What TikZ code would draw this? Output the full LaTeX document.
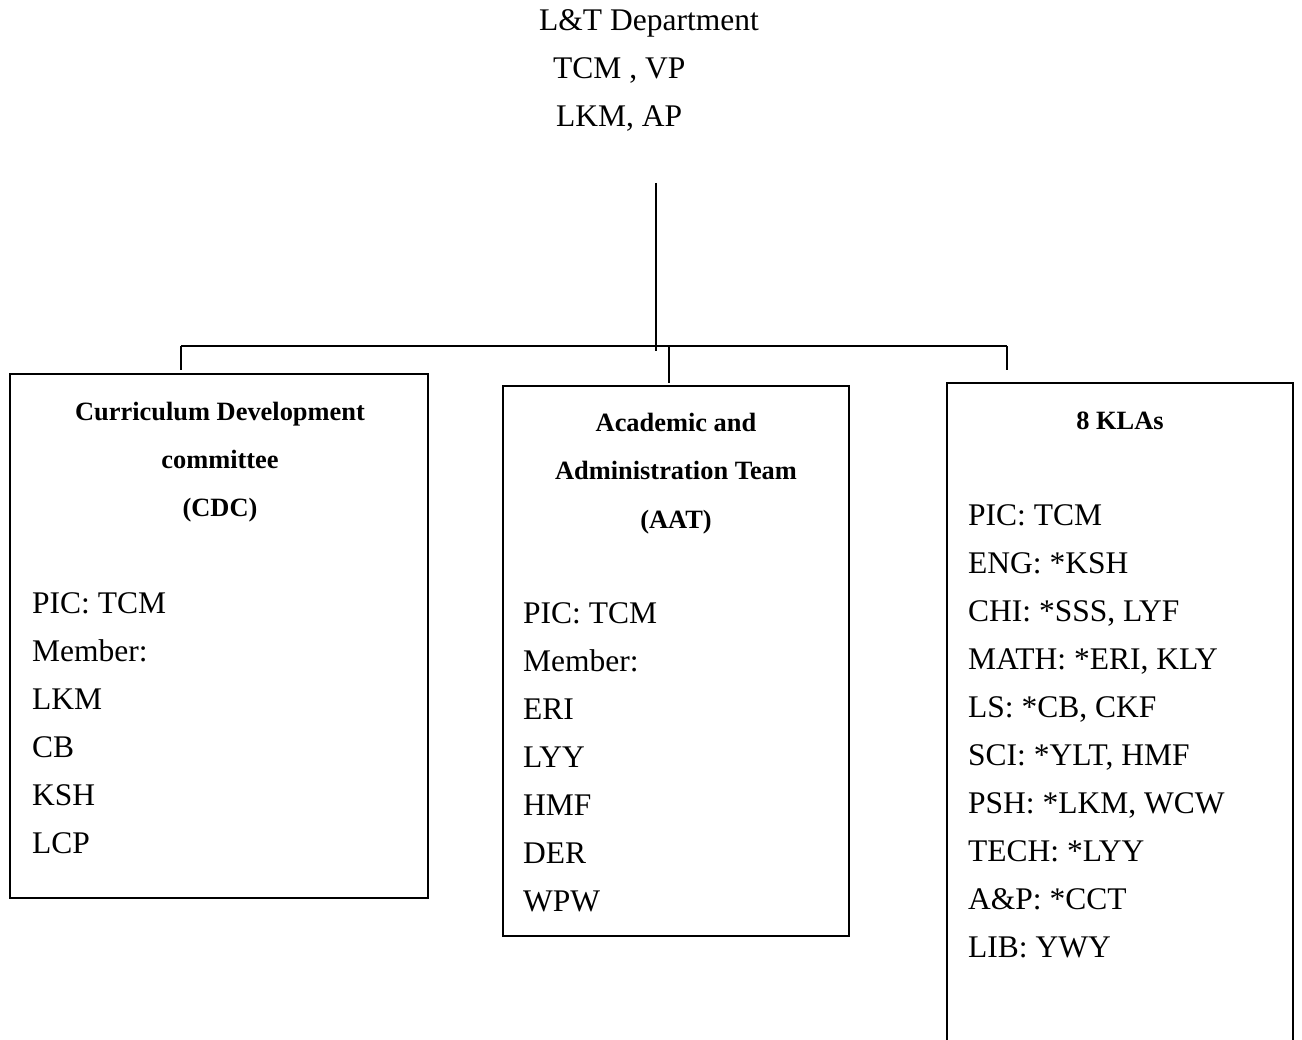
\documentclass[tikz,border=0pt]{standalone}
\usepackage{fontspec}
\setmainfont{Liberation Serif}
\begin{document}
\begin{tikzpicture}[x=1pt,y=-1pt,
  bodytxt/.style={font=\fontsize{31.5}{38}\selectfont, anchor=base west, inner sep=0pt},
  headtxt/.style={font=\fontsize{26.4}{32}\selectfont\bfseries, anchor=base, inner sep=0pt},
  unitbox/.style={draw, line width=1.6pt, anchor=north west, inner sep=0pt, outer sep=0pt},
  link/.style={line width=1.2pt}]
\useasboundingbox (0,0) rectangle (1302,1040);

% top text
\node[bodytxt] (dept) at (539,30.5) {L\&T Department};
\node[bodytxt] (vp) at (553,78.5) {TCM , VP};
\node[bodytxt] (ap) at (556,126.5) {LKM, AP};

% boxes
\node[unitbox, minimum width=418pt, minimum height=524pt] (cdc) at (10,374) {};
\node[unitbox, minimum width=346pt, minimum height=550pt] (aat) at (503,386) {};
\node[unitbox, minimum width=346pt, minimum height=700pt] (kla) at (947,383) {};

% connectors
\coordinate (trunkTop) at (656,183);
\coordinate (trunkEnd) at (656,351);
\coordinate (barL) at (181,346);
\coordinate (barM) at (669,346);
\coordinate (barR) at (1007,346);
\coordinate (dropL) at (181,370);
\coordinate (dropM) at (669,383);
\coordinate (dropR) at (1007,370);
\draw[link] (trunkTop) -- (trunkEnd);
\draw[link] (barL) -- (barR);
\draw[link] (barL) -- (dropL);
\draw[link] (barM) -- (dropM);
\draw[link] (barR) -- (dropR);

% CDC box
\node[headtxt] (cdcA) at (220,420.5) {Curriculum Development};
\node[headtxt] (cdcB) at (220,469) {committee};
\node[headtxt] (cdcC) at (220,516.5) {(CDC)};
\foreach \t [count=\i from 0] in {PIC: TCM, Member:, LKM, CB, KSH, LCP}
  \node[bodytxt] (cdcL\i) at (32,613.5+48*\i) {\t};

% AAT box
\node[headtxt] (aatA) at (676,432) {Academic and};
\node[headtxt] (aatB) at (676,479.5) {Administration Team};
\node[headtxt] (aatC) at (676,529) {(AAT)};
\foreach \t [count=\i from 0] in {PIC: TCM, Member:, ERI, LYY, HMF, DER, WPW}
  \node[bodytxt] (aatL\i) at (523,623.5+48*\i) {\t};

% KLA box
\node[headtxt] (klaA) at (1120,430) {8 KLAs};
\foreach \t [count=\i from 0] in {PIC: TCM, ENG: *KSH, {CHI: *SSS, LYF}, {MATH: *ERI, KLY}, {LS: *CB, CKF}, {SCI: *YLT, HMF}, {PSH: *LKM, WCW}, TECH: *LYY, A\&P: *CCT, LIB: YWY}
  \node[bodytxt] (klaL\i) at (968,525.5+48*\i) {\t};
\end{tikzpicture}
\end{document}
